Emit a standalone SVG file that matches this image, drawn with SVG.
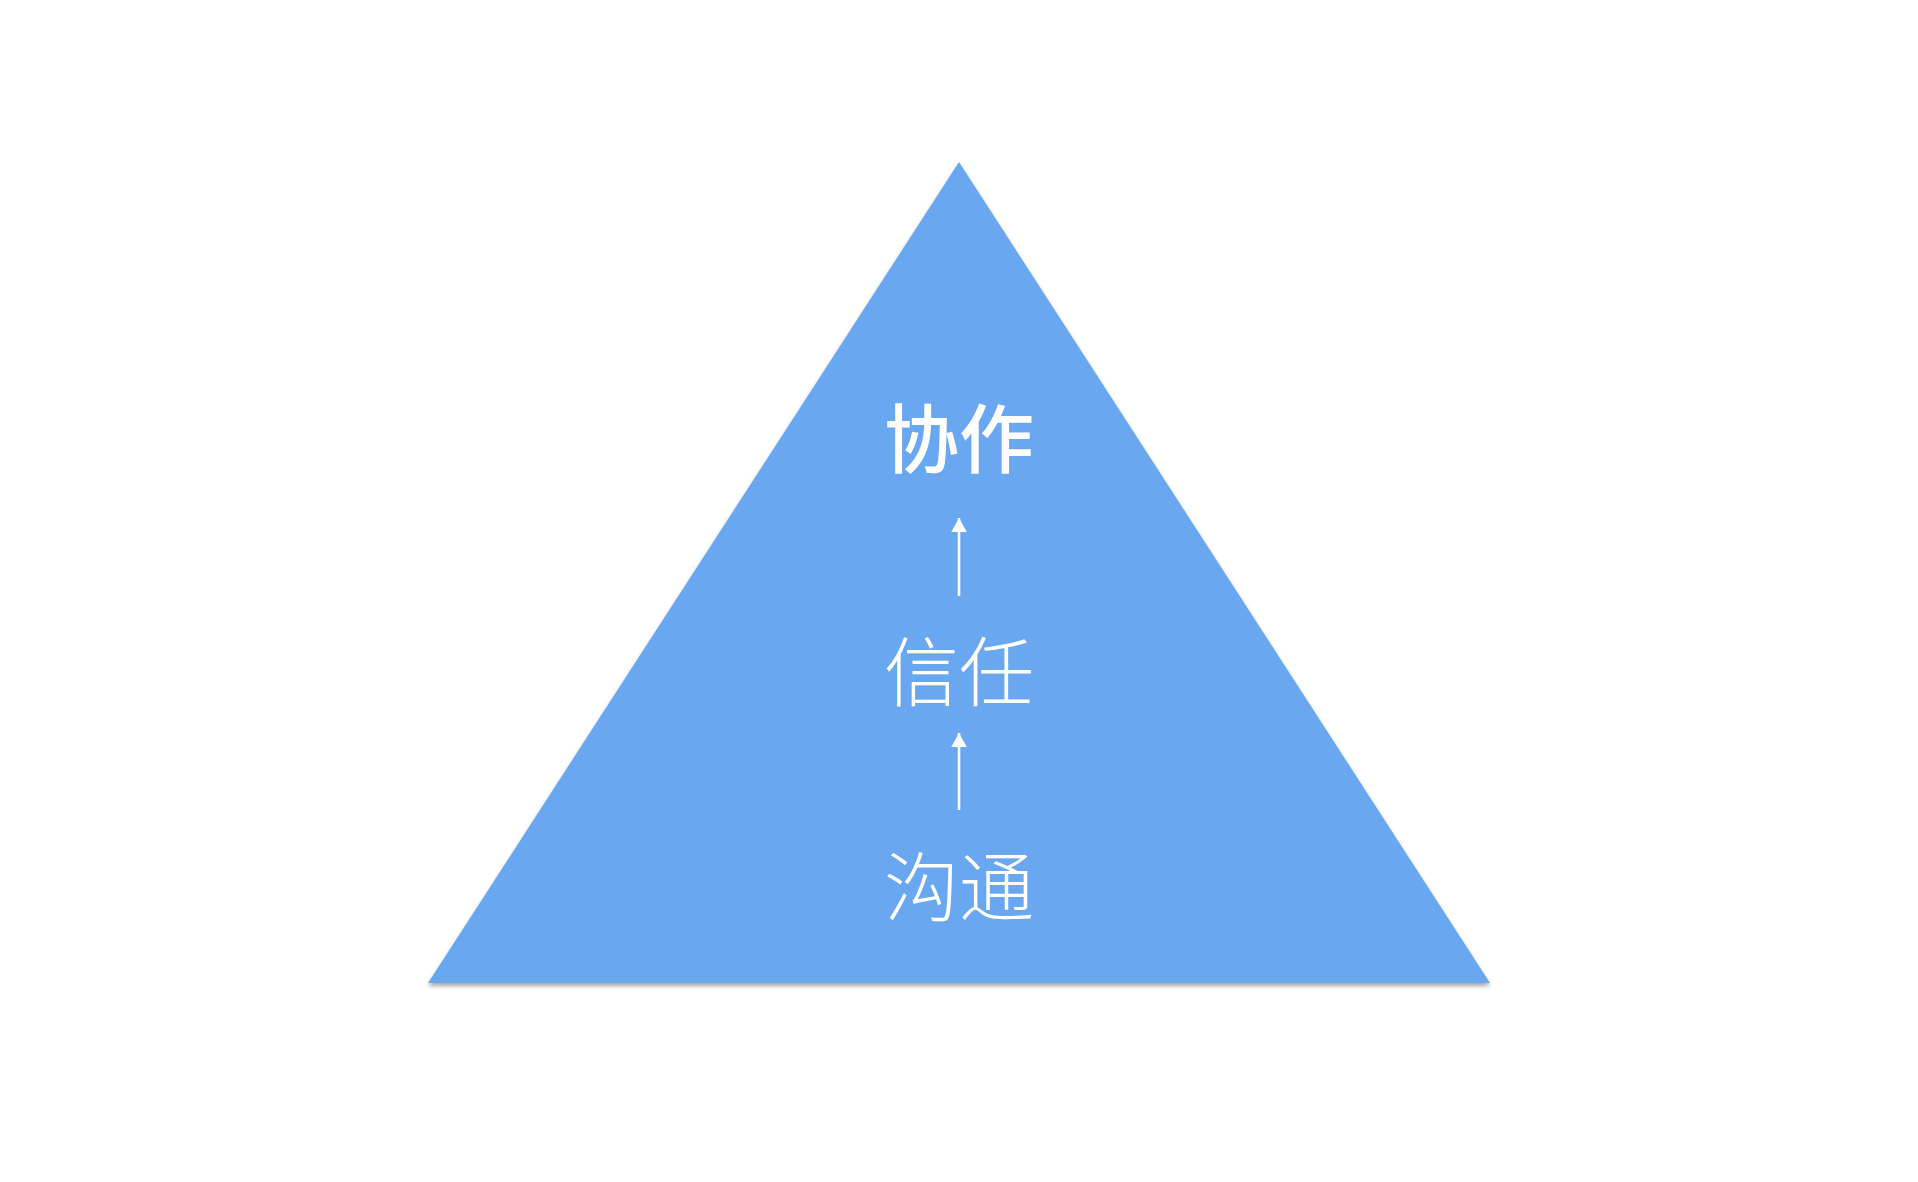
<svg xmlns="http://www.w3.org/2000/svg" width="1918" height="1182" viewBox="0 0 1918 1182">
<style>
.lbl{font-family:"Noto Sans CJK SC","Noto Sans",sans-serif;font-size:75px;fill:#ffffff;text-anchor:middle}
.bold{font-weight:500}
.light{font-weight:300}
.conn{stroke:#ffffff;stroke-width:2.6;fill:none}
</style>
<defs>
<filter id="sh" x="-5%" y="-5%" width="110%" height="112%">
<feDropShadow dx="0" dy="3" stdDeviation="2" flood-color="#000000" flood-opacity="0.35"/>
</filter>
<marker id="ah" markerWidth="6" markerHeight="6" refX="5.4" refY="3" orient="auto" markerUnits="strokeWidth">
<path d="M0,0 L5.4,3 L0,6 z" fill="#ffffff"/>
</marker>
</defs>
<rect width="1918" height="1182" fill="#ffffff"/>
<g id="pyramid">
<polygon points="959,162 1490,983 428,983" fill="#69A7F1" filter="url(#sh)"/>
</g>
<g id="node-xiezuo"><text class="lbl bold" x="959" y="467">协作</text></g>
<g id="node-xinren"><text class="lbl light" x="959" y="700">信任</text></g>
<g id="node-goutong"><text class="lbl light" x="959" y="915">沟通</text></g>
<g id="connectors">
<line class="conn" x1="959" y1="596" x2="959" y2="518" marker-end="url(#ah)"/>
<line class="conn" x1="959" y1="810" x2="959" y2="733" marker-end="url(#ah)"/>
</g>
</svg>
